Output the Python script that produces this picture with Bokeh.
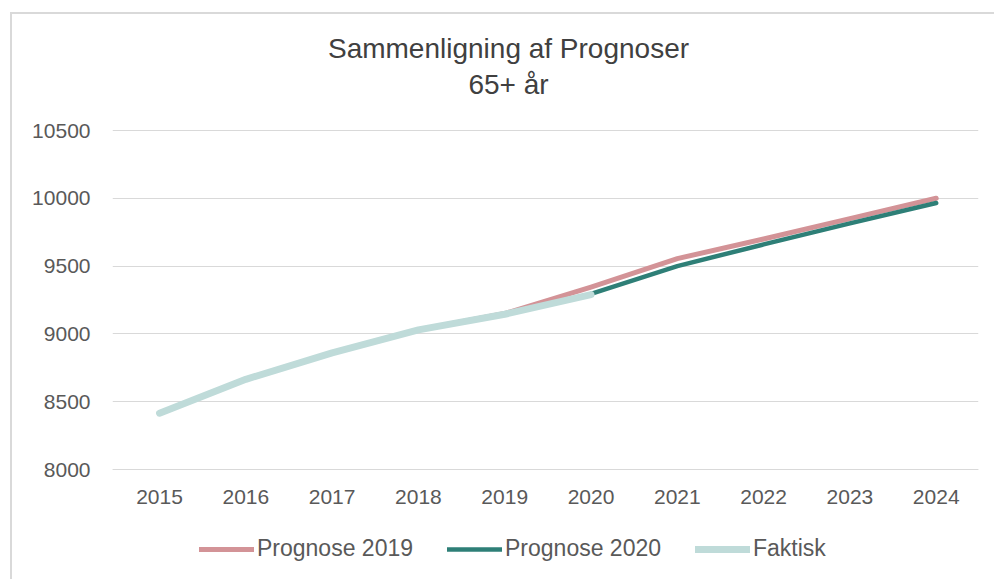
from bokeh.plotting import figure
from bokeh.models import Range1d, Legend, LegendItem, FixedTicker, Label
from bokeh.embed import file_html
from bokeh.resources import INLINE
import numpy as np

# ---- data ----
years = [2015, 2016, 2017, 2018, 2019, 2020, 2021, 2022, 2023, 2024]
prognose_2019 = [None, None, None, 9030, 9150, 9345, 9555, 9700, 9850, 10000]
prognose_2020 = [None, None, None, None, None, 9295, 9500, 9660, 9815, 9965]
faktisk = [8415, 8665, 8860, 9030, 9145, 9290, None, None, None, None]
y_ticks = [8000, 8500, 9000, 9500, 10000, 10500]
title_line1 = "Sammenligning af Prognoser"
title_line2 = "65+ år"
series_names = ["Prognose 2019", "Prognose 2020", "Faktisk"]

FONT = "Liberation Sans"
Y_MIN, Y_MAX = y_ticks[0], y_ticks[-1]

# layout (pixels): plotted value band and the room kept above / below it
CANVAS_H = 567
BAND_TOP = 116      # px from canvas top to the top tick
BAND_BOTTOM = 455   # px from canvas top to the bottom tick
k = (BAND_BOTTOM - BAND_TOP) / (Y_MAX - Y_MIN)
y_lo = Y_MIN - (CANVAS_H - BAND_BOTTOM) / k
y_hi = Y_MAX + BAND_TOP / k

def arr(v):
    return np.array([np.nan if a is None else a for a in v], dtype=float)

p = figure(width=984, height=CANVAS_H, output_backend="svg", toolbar_location=None,
           title=None,
           x_range=Range1d(2014.455, 2024.49), y_range=Range1d(y_lo, y_hi),
           min_border_left=100, min_border_right=18, min_border_top=0,
           min_border_bottom=0)
p.styles = {"border-top": "2px solid #d9d9d9", "border-left": "2px solid #d9d9d9",
            "margin-top": "12px", "margin-left": "10px"}
p.outline_line_color = None
p.background_fill_color = "white"
p.border_fill_color = "white"

# axes
p.xaxis.ticker = FixedTicker(ticks=years)
p.yaxis.ticker = FixedTicker(ticks=y_ticks)
p.ygrid.ticker = FixedTicker(ticks=y_ticks)
p.xaxis.fixed_location = Y_MIN
for ax in (p.xaxis[0], p.yaxis[0]):
    ax.major_tick_line_color = None
    ax.minor_tick_line_color = None
    ax.major_label_text_font = FONT
    ax.major_label_text_font_size = "21px"
    ax.major_label_text_color = "#595959"
p.xaxis.axis_line_color = "#d9d9d9"
p.yaxis.axis_line_color = None
p.xaxis.major_label_standoff = 14
p.yaxis.major_label_standoff = 16
p.xgrid.grid_line_color = None
p.ygrid.grid_line_color = "#d9d9d9"
p.ygrid.grid_line_width = 1

r1 = p.line(years, arr(prognose_2019), line_color="#d39397", line_width=5, line_cap="round", line_join="round")
r2 = p.line(years, arr(prognose_2020), line_color="#2e7f77", line_width=4.5, line_cap="round", line_join="round")
r3 = p.line(years, arr(faktisk), line_color="#bfdbd9", line_width=7, line_cap="round", line_join="round")

legend = Legend(items=[LegendItem(label=series_names[0], renderers=[r1]),
                       LegendItem(label=series_names[1], renderers=[r2]),
                       LegendItem(label=series_names[2], renderers=[r3])],
                orientation="horizontal", location=(87, 19),
                glyph_width=55, glyph_height=22, label_height=22,
                label_standoff=3, spacing=34, padding=0, margin=0,
                label_text_font=FONT, label_text_font_size="23px",
                label_text_color="#595959", border_line_color=None,
                background_fill_alpha=0)
p.add_layout(legend, "center")

p.add_layout(Label(x=396, y=CANVAS_H - 34, x_units="screen", y_units="screen",
                   text=title_line1, text_align="center", text_baseline="alphabetic",
                   text_font=FONT, text_font_size="28px", text_color="#404040"))
p.add_layout(Label(x=396, y=CANVAS_H - 70, x_units="screen", y_units="screen",
                   text=title_line2, text_align="center", text_baseline="alphabetic",
                   text_font=FONT, text_font_size="28px", text_color="#404040"))

open("out.html", "w").write(file_html(p, INLINE))
